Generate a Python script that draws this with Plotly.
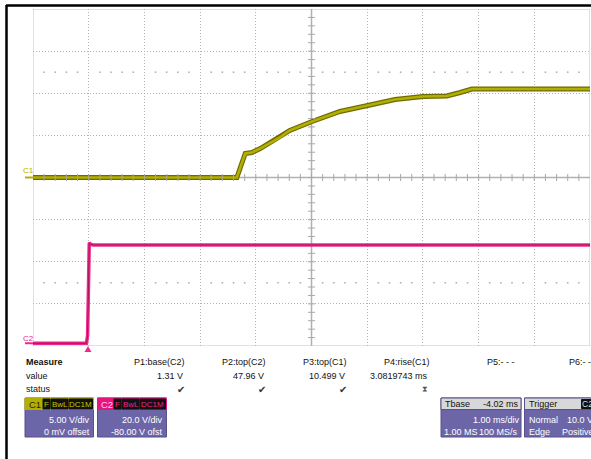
import numpy as np
import plotly.graph_objects as go

W, H = 591, 459

# C1: time (ms, relative to trigger) and voltage (V)
c1_t = [-0.98, 2.68, 2.83, 2.95, 3.10, 3.28, 3.45, 3.63, 4.03, 4.53, 5.03, 5.52, 6.02, 6.45, 6.69, 6.90, 9.02]
c1_v = [0.0, 0.0, 2.85, 2.97, 3.44, 4.16, 4.75, 5.58, 6.65, 7.84, 8.55, 9.26, 9.62, 9.68, 10.09, 10.50, 10.50]
# C2: time (ms) and voltage (V)
c2_t = [-0.98, -0.02, 0.00, 0.02, 0.03, 0.06, 0.10, 9.02]
c2_v = [1.31, 1.31, 5.0, 40.0, 49.0, 48.2, 47.96, 47.96]

meas_names = ["P1:base(C2)", "P2:top(C2)", "P3:top(C1)", "P4:rise(C1)", "P5:- - -", "P6:- - -"]
meas_values = ["1.31 V", "47.96 V", "10.499 V", "3.0819743 ms", "", ""]
meas_status = ["✔", "✔", "✔", "⧗", "", ""]

T_LEFT, T_DIV = -0.98, 1.0      # ms, 1.00 ms/div, 10 div
C1_DIV, C1_OFS = 5.0, 0.0       # V/div, offset
C2_DIV, C2_OFS = 20.0, -80.0

FONT = "Liberation Sans, Arial, sans-serif"
OLIVE = "#B3AF00"
OLIVE_D = "#6E6B00"
PINK = "#EE2A8C"
PINK_D = "#B0105A"
PURPLE = "#6C66A8"
FS = 9


def px(x):
    return x / W


def py(y):
    return 1 - y / H


fig = go.Figure()

# C1 trace
fig.add_trace(go.Scatter(x=c1_t, y=c1_v, mode="lines", line=dict(color=OLIVE_D, width=5),
                         hoverinfo="skip", showlegend=False))
fig.add_trace(go.Scatter(x=c1_t, y=c1_v, mode="lines", line=dict(color=OLIVE, width=2.6),
                         hoverinfo="skip", showlegend=False))
# C2 trace
fig.add_trace(go.Scatter(x=c2_t, y=c2_v, mode="lines", line=dict(color=PINK, width=3.5),
                         yaxis="y2", hoverinfo="skip", showlegend=False))
fig.add_trace(go.Scatter(x=c2_t, y=c2_v, mode="lines", line=dict(color=PINK_D, width=1),
                         yaxis="y2", hoverinfo="skip", showlegend=False))

t_min, t_max = T_LEFT, T_LEFT + 10 * T_DIV
c1_min, c1_max = C1_OFS - 4 * C1_DIV, C1_OFS + 4 * C1_DIV
c2_min, c2_max = -C2_OFS - 4 * C2_DIV, -C2_OFS + 4 * C2_DIV
t_mid = (t_min + t_max) / 2

# center-axis ticks (decoration)
minor_t = t_min + np.arange(1, 50) * T_DIV / 5
minor_v = c1_min + np.arange(1, 40) * C1_DIV / 5
TICKC = "#A8A8A8"
fig.add_trace(go.Scatter(x=minor_t, y=[0] * len(minor_t), mode="markers",
                         marker=dict(symbol="line-ns-open", size=5, color=TICKC,
                                     line=dict(color=TICKC, width=1)),
                         hoverinfo="skip", showlegend=False))
fig.add_trace(go.Scatter(x=[t_mid] * len(minor_v), y=minor_v, mode="markers",
                         marker=dict(symbol="line-ew-open", size=5, color=TICKC,
                                     line=dict(color=TICKC, width=1)),
                         hoverinfo="skip", showlegend=False))
# dotted level rows
dots_t = np.array([t for i, t in enumerate(minor_t) if (i + 1) % 5 != 0])
for lvl in (2.5 * C1_DIV, -2.5 * C1_DIV):
    fig.add_trace(go.Scatter(x=dots_t, y=[lvl] * len(dots_t), mode="markers",
                             marker=dict(symbol="square", size=1.6, color="#B0B0B0", line=dict(width=0)),
                             hoverinfo="skip", showlegend=False))

shapes = []
# plot border
shapes.append(dict(type="rect", xref="x", yref="y", x0=t_min, x1=t_max, y0=c1_min, y1=c1_max,
                   line=dict(color="#C4C4C4", width=1), layer="below"))
# center cross
shapes.append(dict(type="line", xref="x", yref="y", x0=t_mid, x1=t_mid, y0=c1_min, y1=c1_max,
                   line=dict(color="#B0B0B0", width=1.5), layer="below"))
shapes.append(dict(type="line", xref="x", yref="y", x0=t_min, x1=t_max, y0=0, y1=0,
                   line=dict(color="#B0B0B0", width=1.5), layer="below"))
# black frame
shapes.append(dict(type="line", xref="paper", yref="paper", x0=px(6), x1=px(600), y0=py(5.5), y1=py(5.5),
                   line=dict(color="black", width=2.5)))
shapes.append(dict(type="line", xref="paper", yref="paper", x0=px(6.5), x1=px(6.5), y0=py(5), y1=py(470),
                   line=dict(color="black", width=2.5)))
# channel markers
shapes.append(dict(type="line", xref="paper", yref="y", x0=px(25), x1=px(33), y0=0, y1=0,
                   line=dict(color=OLIVE, width=2)))
shapes.append(dict(type="line", xref="paper", yref="y2", x0=px(25), x1=px(33), y0=c2_v[0], y1=c2_v[0],
                   line=dict(color=PINK, width=2)))
# trigger marker
shapes.append(dict(type="path", xref="paper", yref="paper",
                   path=f"M {px(84.5)} {py(352)} L {px(91.5)} {py(352)} L {px(88)} {py(346)} Z",
                   fillcolor=PINK, line=dict(width=0)))


def box(x0, x1, y0, y1, fill, line=None, layer="above"):
    shapes.append(dict(type="rect", xref="paper", yref="paper", x0=px(x0), x1=px(x1), y0=py(y1), y1=py(y0),
                       fillcolor=fill, line=dict(color=line or fill, width=1), layer=layer))


annotations = []


def text(x, y, s, color="#111111", size=FS, anchor="left", bold=False, font=FONT):
    if bold:
        s = f"<b>{s}</b>"
    annotations.append(dict(x=px(x), y=py(y), xref="paper", yref="paper", text=s, showarrow=False,
                            xanchor=anchor, yanchor="middle", font=dict(family=font, size=size, color=color)))


# channel labels
text(28.5, 170, "C1", color=OLIVE, size=8, anchor="center")
text(28.5, 338, "C2", color=PINK, size=8, anchor="center")

# measurement table
text(24, 362, "Measure", bold=True)
text(24, 375.5, "value")
text(24, 389, "status")
name_right = [187, 268, 349, 432]
for i, (nm, val, st) in enumerate(zip(meas_names, meas_values, meas_status)):
    if i < 4:
        text(name_right[i], 362, nm, anchor="right")
        text(name_right[i] - 2, 375.5, val, anchor="right")
        if st == "✔":
            text(name_right[i] - 6, 389, st, size=10, anchor="center", color="#333333",
                 font="DejaVu Sans")
        else:
            text(name_right[i] - 7, 389, st, size=8, anchor="center", color="#555555",
                 font="DejaVu Sans")
    else:
        text([485, 567][i - 4], 362, nm, anchor="left")

# C1 panel
box(25, 93.5, 398, 437, PURPLE, "#57518C")
box(25, 93.5, 398, 409.5, OLIVE)
text(26.5, 404, "C1", color="#2A2800", size=9.5)
for (a, b, s) in [(43, 50, "F"), (51, 68, "BwL"), (69, 92.5, "DC1M")]:
    box(a, b, 399, 409, "#111111")
    text((a + b) / 2, 404, s, color="#C8C400", size=8, anchor="center")
text(92, 420, "5.00 V/div", color="white", anchor="right")
text(92, 431.5, "0 mV offset", color="white", anchor="right")

# C2 panel
box(97.5, 166.5, 398, 437, PURPLE, "#57518C")
box(97.5, 166.5, 398, 409.5, "#E8157F")
text(99, 404, "C2", color="#FFD0E8", size=9.5)
for (a, b, s) in [(114, 121, "F"), (122, 139, "BwL"), (140, 165.5, "DC1M")]:
    box(a, b, 399, 409, "#111111")
    text((a + b) / 2, 404, s, color="#F0208A", size=8, anchor="center")
text(165, 420, "20.0 V/div", color="white", anchor="right")
text(165, 431.5, "-80.00 V ofst", color="white", anchor="right")

# Tbase panel
box(441, 521, 398, 437, PURPLE, "#57518C")
box(441, 521, 398, 409.5, "#D8D8D8", "#57518C")
text(442.5, 404, "Tbase")
text(520.5, 404, "-4.02 ms", anchor="right")
text(522, 420, "1.00 ms/div", color="white", anchor="right")
text(442, 431.5, "1.00 MS", color="white")
text(519.5, 431.5, "100 MS/s", color="white", anchor="right")

# Trigger panel
box(524.5, 600, 398, 437, PURPLE, "#57518C")
box(524.5, 600, 398, 409.5, "#D8D8D8", "#57518C")
text(526.5, 404, "Trigger")
box(581.5, 600, 399.5, 408.5, "#111111")
text(587, 404, "C2", color="#DDDDDD", size=8.5, anchor="center")
text(526.5, 420, "Normal", color="white")
text(595, 420, "10.0 V", color="white", anchor="right")
text(526.5, 431.5, "Edge", color="white")
text(596, 431.5, "Positive", color="white", anchor="right")

grid = dict(showgrid=True, gridcolor="#B4B4B4", griddash="1px,2px", gridwidth=1,
            showticklabels=False, ticks="", zeroline=False, showline=False, fixedrange=True)

fig.update_layout(
    width=W, height=H,
    margin=dict(l=0, r=0, t=0, b=0),
    paper_bgcolor="white", plot_bgcolor="white",
    xaxis=dict(domain=[px(33), px(590)], range=[t_min, t_max], tick0=t_min, dtick=T_DIV, **grid),
    yaxis=dict(domain=[py(346), py(9)], range=[c1_min, c1_max], tick0=c1_min, dtick=C1_DIV, **grid),
    yaxis2=dict(overlaying="y", range=[c2_min, c2_max], showgrid=False, showticklabels=False,
                ticks="", zeroline=False, fixedrange=True),
    shapes=shapes,
    annotations=annotations,
    showlegend=False,
)

fig.write_html("out.html", config={"displayModeBar": False},
               post_script="document.body.style.margin='0px';document.body.style.overflow='hidden';")
